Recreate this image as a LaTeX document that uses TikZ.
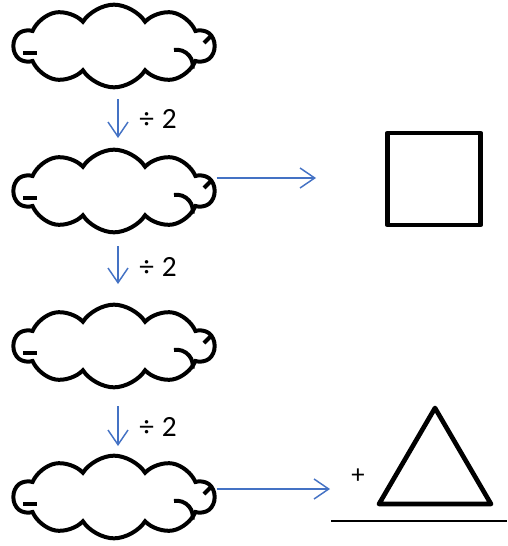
\documentclass[tikz,border=0pt]{standalone}
\usepackage{fontspec}
\setmainfont{Carlito}
\usetikzlibrary{arrows.meta, positioning, shapes.symbols}

\definecolor{arrowblue}{RGB}{68,114,196}

\tikzstyle{puff} = [% the cloud shapes on the left
  cloud,
  cloud puffs=10,
  cloud puff arc=115,
  aspect=2.4,
  minimum width=150pt,
  minimum height=62pt,
  inner sep=0pt,
  draw=black,
  line width=3pt,
  fill=white
]
\tikzstyle{stroke} = [% inner strokes of a cloud
  line width=3pt
]
\tikzstyle{outline} = [% square and triangle
  draw=black,
  line width=3.5pt,
  line join=round
]
\tikzstyle{arrow} = [% arrow format
  -{Straight Barb[length=11pt,width=15pt]},
  draw=arrowblue,
  line width=1.1pt
]
\tikzstyle{divtext} = [% the operations
  font=\fontsize{22}{26}\selectfont
]

\begin{document}
\begin{tikzpicture}[x=0.75pt, y=-0.75pt]
\useasboundingbox (0,0) rectangle (507,546);

%%% Clouds
\node[puff] (cloud1) at (114,46) {};
\node[puff] (cloud2) at (114,191) {};
\node[puff] (cloud3) at (114,346) {};
\node[puff] (cloud4) at (114,497) {};

% inner strokes of the clouds
\foreach \c in {cloud1, cloud2, cloud3, cloud4} {
  \draw[stroke] ([shift={(-91,7)}]\c.center) -- ++(14,0);
  \draw[stroke] ([shift={(60,4)}]\c.center) arc[start angle=100, end angle=-10, radius=12pt];
  \draw[stroke] ([shift={(97,-10)}]\c.center) -- ++(-7,7);
}

%%% Square and triangle
\node[outline, rectangle, minimum width=70pt, minimum height=69pt] (square) at (434,179) {};
\coordinate (apex) at (435,408);
\coordinate (baseL) at (379,504);
\coordinate (baseR) at (491,504);
\draw[outline] (apex) -- (baseL) -- (baseR) -- cycle;
\node[font=\fontsize{20}{22}\selectfont] (plus) at (358,476) {+};
\coordinate (lineL) at (331,521);
\coordinate (lineR) at (507,521);
\draw[line width=0.9pt] (lineL) -- (lineR);

%%% Arrows
\coordinate (out1) at (316,178);
\coordinate (out2) at (330,489);
\draw[arrow] (cloud2.east |- out1) -- (out1);
\draw[arrow] (cloud4.east |- out2) -- (out2);

\coordinate (down1a) at (118,99);
\coordinate (down1b) at (118,138);
\coordinate (down2a) at (118,246);
\coordinate (down2b) at (118,284);
\coordinate (down3a) at (118,406);
\coordinate (down3b) at (118,446);
\draw[arrow] (down1a) -- (down1b);
\draw[arrow] (down2a) -- (down2b);
\draw[arrow] (down3a) -- (down3b);

%%% Labels
\node[divtext] (div1) at (158,119) {÷\hspace{6pt}2};
\node[divtext] (div2) at (158,267) {÷\hspace{6pt}2};
\node[divtext] (div3) at (158,427) {÷\hspace{6pt}2};

\end{tikzpicture}
\end{document}
